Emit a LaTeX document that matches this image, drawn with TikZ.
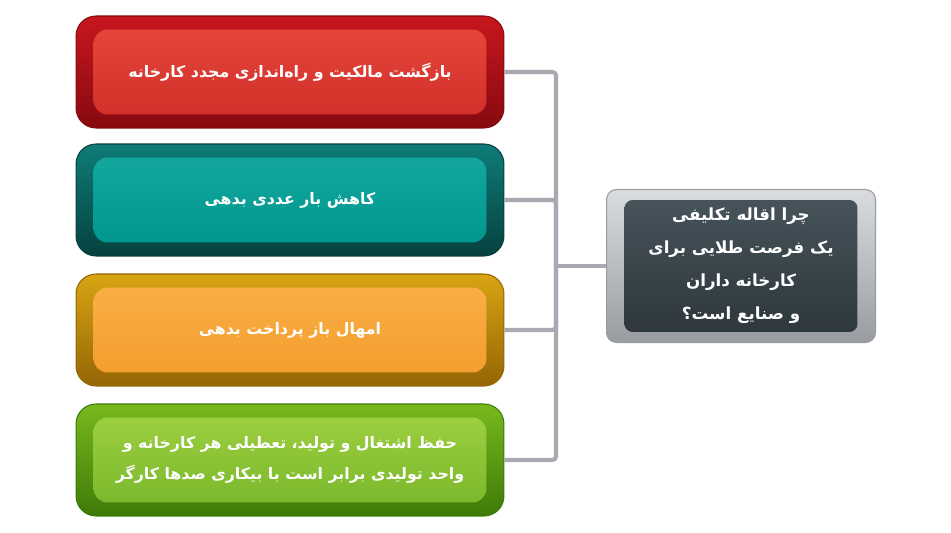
\documentclass[tikz,border=0pt]{standalone}
\usepackage{fontspec}
\newfontfamily\arabicfont[Script=Arabic]{DejaVu Sans}
\TeXXeTstate=1
\usetikzlibrary{positioning}

\definecolor{redtop}{HTML}{C8161E}
\definecolor{redbot}{HTML}{860A10}
\definecolor{redface}{HTML}{E4463A}
\definecolor{redfacebot}{HTML}{D2302A}
\definecolor{tealtop}{HTML}{0E7C77}
\definecolor{tealbot}{HTML}{06413F}
\definecolor{tealface}{HTML}{13A79E}
\definecolor{tealfacebot}{HTML}{00978E}
\definecolor{orangetop}{HTML}{D9A414}
\definecolor{orangebot}{HTML}{946605}
\definecolor{orangeface}{HTML}{F9AE45}
\definecolor{orangefacebot}{HTML}{F49E2E}
\definecolor{greentop}{HTML}{78B91E}
\definecolor{greenbot}{HTML}{3E7A08}
\definecolor{greenface}{HTML}{9BCF40}
\definecolor{greenfacebot}{HTML}{7CB82C}
\definecolor{graytop}{HTML}{DADCDF}
\definecolor{graybot}{HTML}{989CA1}
\definecolor{slateface}{HTML}{46535A}
\definecolor{slatefacebot}{HTML}{2E383D}
\definecolor{linkgray}{HTML}{A8A9B1}

\begin{document}
\begin{tikzpicture}[x=0.02cm, y=-0.02cm,
		rim/.style={rounded corners=0.4cm, minimum width=8.56cm, minimum height=2.24cm, line width=0.6pt},
		face/.style={rounded corners=0.28cm, minimum width=7.86cm, minimum height=1.7cm, text=white,
			font=\arabicfont\bfseries\fontsize{9}{17.6}\selectfont, align=center},
		link/.style={draw=linkgray, line width=2.3pt, rounded corners=2pt}]

		\useasboundingbox (0,0) rectangle (951,533);

		\node[rim, draw=redbot, top color=redtop, bottom color=redbot] (b1) at (290,72) {};
		\node[face, top color=redface, bottom color=redfacebot] (f1) at (b1) {\beginR بازگشت مالکیت و راه‌اندازی مجدد کارخانه\endR};

		\node[rim, draw=tealbot, top color=tealtop, bottom color=tealbot] (b2) at (290,200) {};
		\node[face, top color=tealface, bottom color=tealfacebot] (f2) at (b2) {\beginR کاهش بار عددی بدهی\endR};

		\node[rim, draw=orangebot, top color=orangetop, bottom color=orangebot] (b3) at (290,330) {};
		\node[face, top color=orangeface, bottom color=orangefacebot] (f3) at (b3) {\beginR امهال باز پرداخت بدهی\endR};

		\node[rim, draw=greenbot, top color=greentop, bottom color=greenbot] (b4) at (290,460) {};
		\node[face, top color=greenface, bottom color=greenfacebot] (f4) at (b4) {\beginR حفظ اشتغال و تولید، تعطیلی هر کارخانه و\endR\\\beginR واحد تولیدی برابر است با بیکاری صدها کارگر\endR};

		\node[rim, draw=graybot, top color=graytop, bottom color=graybot,
			minimum width=5.38cm, minimum height=3.06cm, rounded corners=0.2cm] (q) at (741,266) {};
		\node[face, top color=slateface, bottom color=slatefacebot,
			minimum width=4.66cm, minimum height=2.64cm, rounded corners=0.16cm,
			font=\arabicfont\bfseries\fontsize{9.5}{18.8}\selectfont] (qf) at (q)
			{\beginR چرا اقاله تکلیفی\endR\\\beginR یک فرصت طلایی برای\endR\\\beginR کارخانه داران\endR\\\beginR و صنایع است؟\endR};

		\coordinate (j) at (556,266);

		\draw[link] (b1.east) -| (j);
		\draw[link] (b4.east) -| (j);
		\draw[link] (b2.east) -| (j);
		\draw[link] (b3.east) -| (j);
		\draw[link] (q.west) -- (j);

	\end{tikzpicture}
\end{document}
